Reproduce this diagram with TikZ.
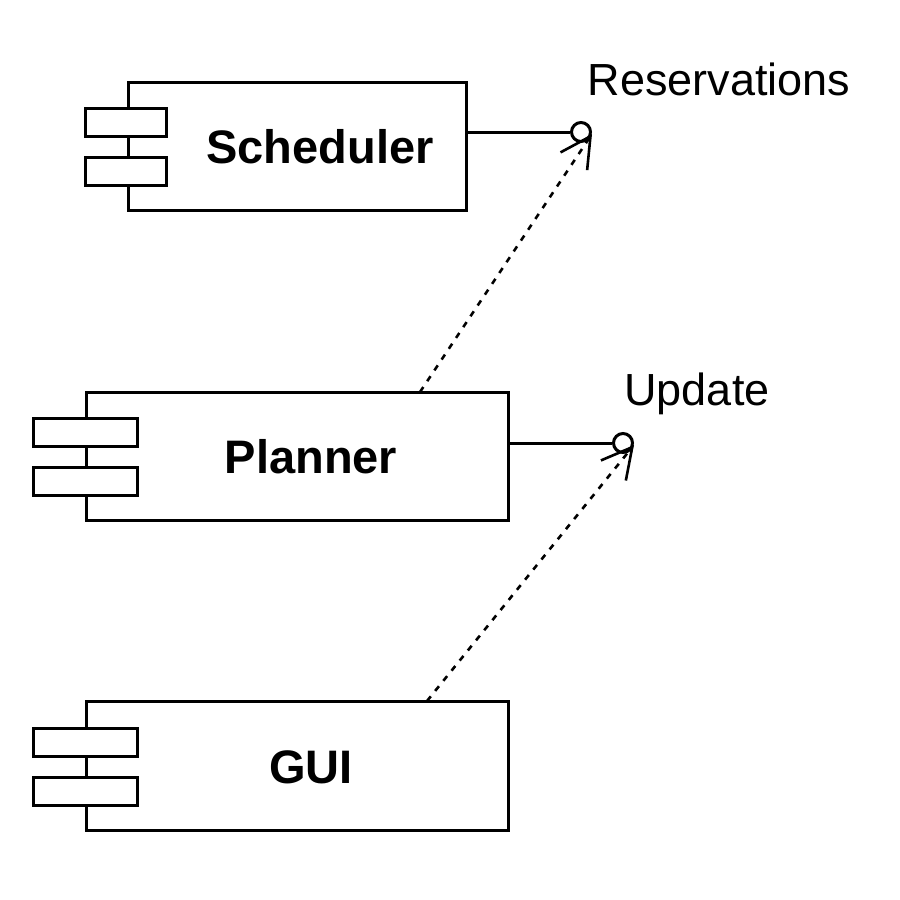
\documentclass[tikz,border=0pt]{standalone}
\usepackage{fontspec}
\setmainfont{Liberation Sans}
\usetikzlibrary{arrows.meta}
\begin{document}
\begin{tikzpicture}[x=1pt,y=-1pt,
  comp/.style={draw, line width=3pt, rectangle, inner sep=0pt},
  portbox/.style={draw, line width=3pt, rectangle, fill=white, inner sep=0pt, minimum height=28pt},
  cname/.style={anchor=base, inner sep=0pt, font=\fontsize{47}{50}\selectfont\bfseries},
  iname/.style={anchor=base, inner sep=0pt, font=\fontsize{45}{48}\selectfont},
  iface/.style={draw, line width=3pt, circle, minimum size=19pt, inner sep=0pt},
  lollipop/.style={line width=3pt},
  dep/.style={line width=2.6pt, dash pattern=on 6pt off 7pt, -{Straight Barb[length=30pt,width=32pt,line width=2.6pt]}}
]
\useasboundingbox (0,0) rectangle (900,900);
% Scheduler
\node[comp, minimum width=338pt, minimum height=128pt] (sched) at (297,146) {};
\node[portbox, minimum width=81pt] (schedp1) at (125.5,122) {};
\node[portbox, minimum width=81pt] (schedp2) at (125.5,171) {};
\node[cname] (schedt) at (320,163) {Scheduler};
% Planner
\node[comp, minimum width=422pt, minimum height=128pt] (plan) at (297,456) {};
\node[portbox, minimum width=104pt] (planp1) at (85,432) {};
\node[portbox, minimum width=104pt] (planp2) at (85,481) {};
\node[cname] (plant) at (311,473) {Planner};
% GUI
\node[comp, minimum width=422pt, minimum height=129pt] (gui) at (297,765.5) {};
\node[portbox, minimum width=104pt] (guip1) at (85,742) {};
\node[portbox, minimum width=104pt] (guip2) at (85,791) {};
\node[cname] (guit) at (311,783) {GUI};
% Interfaces
\node[iface] (res) at (581,132) {};
\node[iname] (rest) at (719,95) {Reservations};
\node[iface] (upd) at (623,443) {};
\node[iname] (updt) at (697,405) {Update};
\coordinate (resa) at (466,132);
\coordinate (upda) at (508,443);
\draw[lollipop] (resa) -- (res.west);
\draw[lollipop] (upda) -- (upd.west);
% Dependencies
\coordinate (plantop) at (420,392);
\coordinate (guitop) at (427,701);
\coordinate (restip) at (592,134);
\coordinate (updtip) at (634,445);
\draw[dep] (plantop) -- (restip);
\draw[dep] (guitop) -- (updtip);
\end{tikzpicture}
\end{document}
